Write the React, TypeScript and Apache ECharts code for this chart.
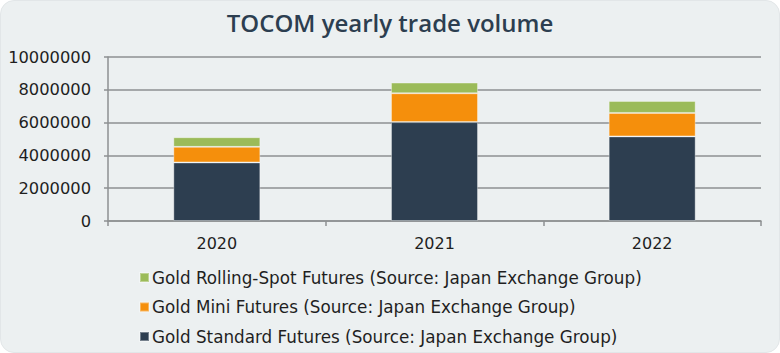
import React, { useEffect, useRef } from "react";
import * as echarts from "echarts";

const categories = ["2020", "2021", "2022"];
const standardFutures = [3570000, 6030000, 5160000];
const miniFutures = [950000, 1760000, 1430000];
const rollingSpotFutures = [590000, 650000, 730000];
const yTicks = { min: 0, max: 10000000, interval: 2000000 };

const NAME_STD = "Gold Standard Futures (Source: Japan Exchange Group)";
const NAME_MINI = "Gold Mini Futures (Source: Japan Exchange Group)";
const NAME_ROLL = "Gold Rolling-Spot Futures (Source: Japan Exchange Group)";

const TITLE_FONT = "'Open Sans', sans-serif";
const FONT = "'DejaVu Sans', sans-serif";
const AXIS_GRAY = "#8e9192";

export default function App() {
  const ref = useRef<HTMLDivElement>(null);
  useEffect(() => {
    document.body.style.margin = "0";
    document.body.style.background = "#ffffff";
    const chart = echarts.init(ref.current!, null, { renderer: "svg" });
    const barStyle = (color: string) => ({
      color,
      borderColor: "rgba(255,255,255,0.35)",
      borderWidth: 1,
    });
    chart.setOption({
      animation: false,
      backgroundColor: "transparent",
      textStyle: { fontFamily: FONT },
      title: {
        text: "TOCOM yearly trade volume",
        left: "center",
        top: 5,
        textStyle: {
          fontFamily: TITLE_FONT,
          fontSize: 24,
          fontWeight: 600,
          color: "#2c3e50",
        },
      },
      grid: { left: 108, right: 19, top: 57, bottom: 132, containLabel: false },
      legend: {
        orient: "vertical",
        left: 139,
        top: 269,
        padding: 0,
        itemWidth: 9,
        itemHeight: 9,
        itemGap: 12.5,
        icon: "rect",
        data: [NAME_ROLL, NAME_MINI, NAME_STD],
        textStyle: { fontFamily: FONT, fontSize: 16.8, color: "#1f1f1f", padding: [0, 0, 0, -2] },
      },
      xAxis: {
        type: "category",
        data: categories,
        axisLine: { show: true, lineStyle: { color: AXIS_GRAY, width: 1.5 } },
        axisTick: { show: true, length: 5, lineStyle: { color: AXIS_GRAY, width: 1.5 } },
        axisLabel: { fontFamily: FONT, fontSize: 16, color: "#1f1f1f", margin: 14 },
      },
      yAxis: {
        type: "value",
        min: yTicks.min,
        max: yTicks.max,
        interval: yTicks.interval,
        axisLine: { show: true, lineStyle: { color: AXIS_GRAY, width: 1.5 } },
        axisTick: { show: true, length: 4, lineStyle: { color: AXIS_GRAY, width: 1.5 } },
        splitLine: { show: true, lineStyle: { color: AXIS_GRAY, width: 1.5 } },
        axisLabel: {
          fontFamily: FONT,
          fontSize: 16.3,
          color: "#1f1f1f",
          margin: 17,
          formatter: (v: number) => String(v),
        },
      },
      series: [
        { name: NAME_STD, type: "bar", stack: "total", barWidth: 87, data: standardFutures, itemStyle: barStyle("#2d3e50") },
        { name: NAME_MINI, type: "bar", stack: "total", barWidth: 87, data: miniFutures, itemStyle: barStyle("#f58f0c") },
        { name: NAME_ROLL, type: "bar", stack: "total", barWidth: 87, data: rollingSpotFutures, itemStyle: barStyle("#9bbb59") },
      ],
    });
    return () => chart.dispose();
  }, []);
  return (
    <div
      style={{
        position: "absolute",
        left: 0,
        top: 0,
        width: 780,
        height: 353,
        boxSizing: "border-box",
        background: "#ecf0f1",
        borderRadius: 14,
        border: "1px solid #e2e6e8",
        overflow: "hidden",
      }}
    >
      <div ref={ref} style={{ position: "absolute", left: -1, top: -1, width: 780, height: 353 }} />
    </div>
  );
}
